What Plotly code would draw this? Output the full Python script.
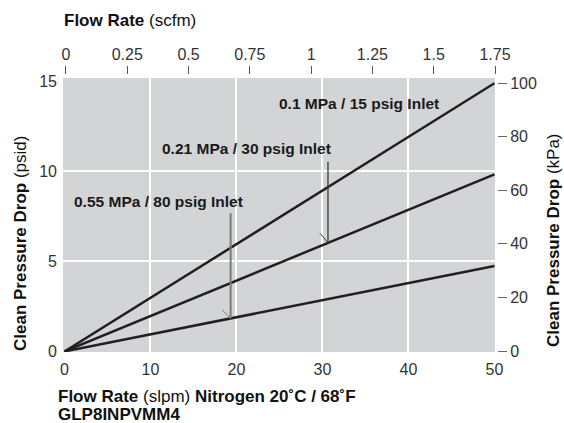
import plotly.graph_objects as go

# ---- data ----
flow_slpm = [0, 50]
dp_01_psid = [0, 14.9]     # 0.1 MPa / 15 psig inlet
dp_021_psid = [0, 9.84]    # 0.21 MPa / 30 psig inlet
dp_055_psid = [0, 4.75]    # 0.55 MPa / 80 psig inlet

x_ticks = [0, 10, 20, 30, 40, 50]
x_grid = [10, 20, 30, 40]
y_ticks = [0, 5, 10, 15]
y_grid = [5, 10]
scfm_ticks = [0, 0.25, 0.5, 0.75, 1, 1.25, 1.5, 1.75]
scfm_labels = ["0", "0.25", "0.5", "0.75", "1", "1.25", "1.5", "1.75"]
kpa_ticks = [0, 20, 40, 60, 80, 100]

labels = ["0.1 MPa / 15 psig Inlet", "0.21 MPa / 30 psig Inlet", "0.55 MPa / 80 psig Inlet"]
label_x = [34.2, 21.2, 10.9]
label_y = [13.75, 11.25, 8.32]

# pointer lines: x, top, tip, half-head start
arrow_x = [30.64, 19.32]
arrow_top = [10.54, 7.68]
arrow_tip = [6.04, 1.84]
head_x = [29.7, 18.35]
head_y = [6.57, 2.3]
arrow_color = ["#3a3a3a", "#7a7a7a"]
arrow_width = [1.3, 2]

W, H = 564, 423
ML, MR, MT, MB = 63, 67, 74, 71
PW = W - ML - MR
PH = H - MT - MB
xdom_end = 432 / PW
ydom_end = 274 / PH

FONT = "Liberation Sans, Arial, sans-serif"
LINE = "#231f20"

fig = go.Figure()
for ys in (dp_01_psid, dp_021_psid, dp_055_psid):
    fig.add_trace(go.Scatter(x=flow_slpm, y=ys, mode="lines",
                             line=dict(color=LINE, width=2.5),
                             hoverinfo="skip", showlegend=False))

# invisible trace to activate the secondary axes
fig.add_trace(go.Scatter(x=[scfm_ticks[0], scfm_ticks[-1]], y=[kpa_ticks[0], kpa_ticks[-1]],
                         xaxis="x2", yaxis="y2",
                         mode="lines", line=dict(width=0), opacity=0,
                         hoverinfo="skip", showlegend=False))

shapes = []
for i in range(len(arrow_x)):
    shapes.append(dict(type="line", xref="x", yref="y",
                       x0=arrow_x[i], x1=arrow_x[i], y0=arrow_top[i], y1=arrow_tip[i],
                       line=dict(color=arrow_color[i], width=arrow_width[i])))
    shapes.append(dict(type="line", xref="x", yref="y",
                       x0=head_x[i], x1=arrow_x[i], y0=head_y[i], y1=arrow_tip[i],
                       line=dict(color=arrow_color[i], width=1)))

annotations = []
for t, ax_, ay_ in zip(labels, label_x, label_y):
    annotations.append(dict(text="<b>" + t + "</b>", x=ax_, y=ay_, xref="x", yref="y",
                            showarrow=False, font=dict(family=FONT, size=15.5, color="#1a1a1a")))

def px_x(px):
    return (px - ML) / PW

def px_y(py):
    return (H - MB - py) / PH

TS = 17
annotations += [
    dict(text="<b>Flow Rate</b> (scfm)", x=px_x(62), y=px_y(20), xref="paper", yref="paper",
         xanchor="left", yanchor="middle", showarrow=False,
         font=dict(family=FONT, size=TS, color="#111")),
    dict(text="<b>Flow Rate</b> (slpm) <b>Nitrogen 20˚C / 68˚F</b>", x=px_x(56), y=px_y(397),
         xref="paper", yref="paper", xanchor="left", yanchor="middle", showarrow=False,
         font=dict(family=FONT, size=TS, color="#111")),
    dict(text="<b>GLP8INPVMM4</b>", x=px_x(56), y=px_y(414),
         xref="paper", yref="paper", xanchor="left", yanchor="middle", showarrow=False,
         font=dict(family=FONT, size=TS, color="#111")),
    dict(text="<b>Clean Pressure Drop</b> (psid)", x=px_x(20), y=px_y(244), textangle=-90,
         xref="paper", yref="paper", xanchor="center", yanchor="middle", showarrow=False,
         font=dict(family=FONT, size=TS, color="#111")),
    dict(text="<b>Clean Pressure Drop</b> (kPa)", x=px_x(553), y=px_y(240), textangle=-90,
         xref="paper", yref="paper", xanchor="center", yanchor="middle", showarrow=False,
         font=dict(family=FONT, size=TS, color="#111")),
]

tickfont = dict(family=FONT, size=16, color="#333")

fig.update_layout(
    width=W, height=H,
    margin=dict(l=ML, r=MR, t=MT, b=MB, pad=0),
    paper_bgcolor="white", plot_bgcolor="#d3d4d6",
    showlegend=False,
    xaxis=dict(domain=[0, xdom_end], range=[-0.17, 50.06], tickmode="array", tickvals=x_ticks,
               showgrid=False, zeroline=False, showline=False, ticks="",
               tickfont=tickfont, ticklabelstandoff=6,
               minor=dict(tickmode="array", tickvals=x_grid, showgrid=True,
                          gridcolor="white", gridwidth=1.5, ticks="")),
    yaxis=dict(domain=[0, ydom_end], range=[-0.03, 15.19], tickmode="array", tickvals=y_ticks,
               showgrid=False, zeroline=False, showline=False, ticks="",
               tickfont=tickfont, ticklabelstandoff=5,
               minor=dict(tickmode="array", tickvals=y_grid, showgrid=True,
                          gridcolor="white", gridwidth=1.5, ticks="")),
    xaxis2=dict(domain=[0, xdom_end], overlaying="x", side="top", anchor="free", position=1,
                range=[-0.012, 1.75], tickmode="array", tickvals=scfm_ticks, ticktext=scfm_labels,
                showgrid=False, zeroline=False, showline=False,
                ticks="outside", ticklen=8, tickwidth=1, tickcolor="#555",
                tickfont=tickfont),
    yaxis2=dict(domain=[0, ydom_end], overlaying="y", side="right", anchor="free", position=1,
                range=[-0.37, 101.87], tickmode="array", tickvals=kpa_ticks,
                showgrid=False, zeroline=False, showline=False,
                ticks="outside", ticklen=9, tickwidth=1, tickcolor="#666",
                tickfont=tickfont),
    shapes=shapes,
    annotations=annotations,
)

fig.write_html("out.html", config={"displayModeBar": False},
               post_script="document.body.style.margin='0';document.body.style.padding='0';")
